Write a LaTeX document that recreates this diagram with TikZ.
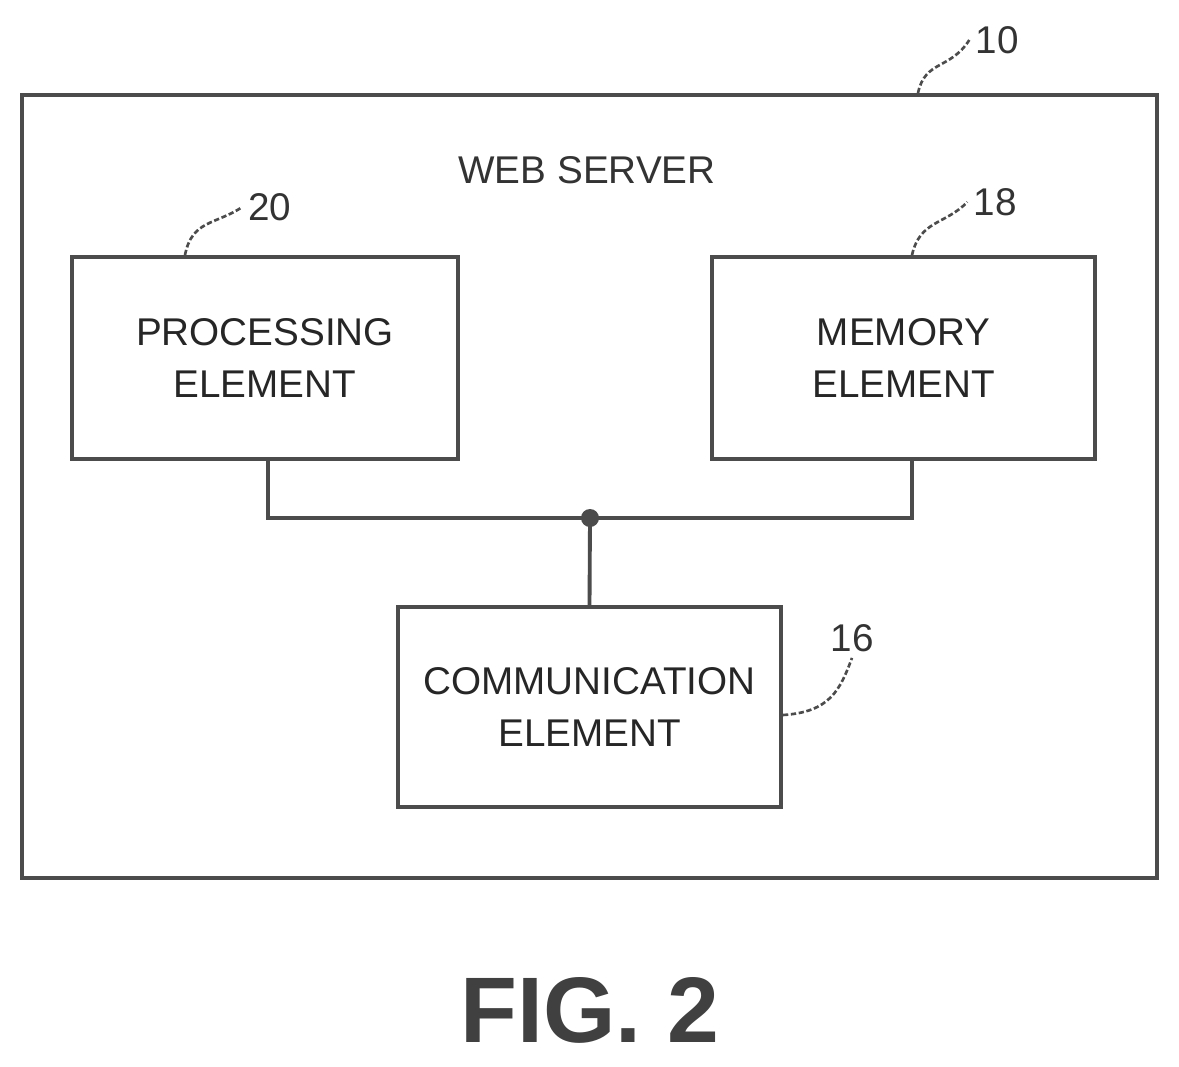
\documentclass[tikz,border=0pt]{standalone}
\usepackage{fontspec}
\setmainfont{Liberation Sans}
\begin{document}
\begin{tikzpicture}[x=0.02cm,y=-0.02cm,
  ln/.style={draw=black!70,line width=2.2pt},
  box/.style={ln,fill=white,rectangle,align=center,font=\fontsize{22}{30}\selectfont,text=black!85,inner sep=0pt},
  lbl/.style={font=\fontsize{22}{28}\selectfont,text=black!80},
  lead/.style={draw=black!70,line width=1.5pt,dash pattern=on 3pt off 1.5pt}]
\useasboundingbox (0,0) rectangle (1179,1066);
\node[box,minimum width=1135*0.02cm,minimum height=783*0.02cm] (srv) at (589.5,486.5) {};
\node[lbl] (ws) at (587,170) {WEB SERVER};
\node[box,minimum width=386*0.02cm,minimum height=202*0.02cm] (pe) at (265,358) {PROCESSING\\ELEMENT};
\node[box,minimum width=383*0.02cm,minimum height=202*0.02cm] (me) at (903.5,358) {MEMORY\\ELEMENT};
\node[box,minimum width=383*0.02cm,minimum height=200*0.02cm] (ce) at (589.5,707) {COMMUNICATION\\ELEMENT};
\coordinate (j) at (590,518);
\draw[ln] (pe.south -| 268,0) |- (j) -| (me.south -| 912,0);
\draw[ln] (j) -- (ce.north);
\fill[black!70] (j) circle (9);
\node[lbl] (n10) at (997,40) {10};
\node[lbl] (n20) at (270,207) {20};
\node[lbl] (n18) at (995,202) {18};
\node[lbl] (n16) at (852,638) {16};
\draw[lead] (918,93) .. controls (925,60) and (950,70) .. (n10.west);
\draw[lead] (185,255) .. controls (192,220) and (215,225) .. (n20.west);
\draw[lead] (912,255) .. controls (920,220) and (945,225) .. (n18.west);
\draw[lead] (783,715) .. controls (830,712) and (840,690) .. (n16.south);
\node[font=\bfseries\fontsize{53}{60}\selectfont,text=black!75] (fig) at (590,1010) {FIG. 2};
\end{tikzpicture}
\end{document}
